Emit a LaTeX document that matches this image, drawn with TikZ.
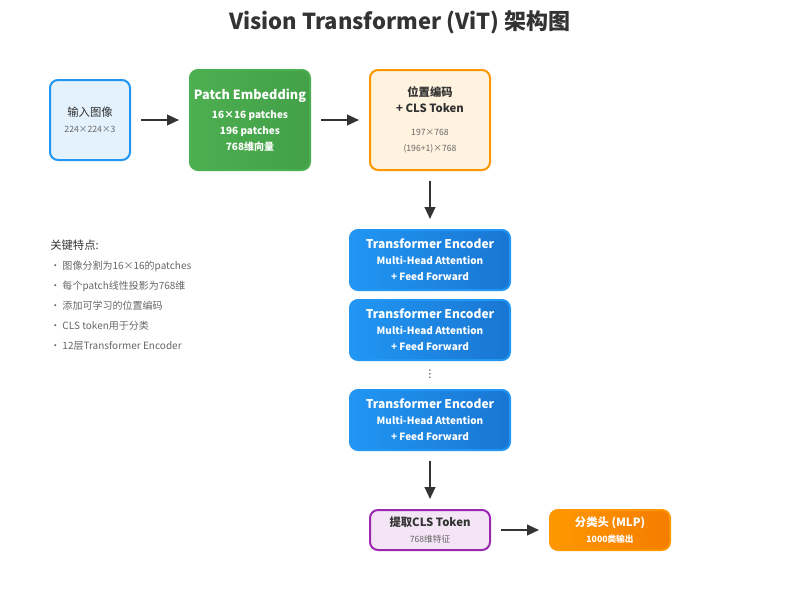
\documentclass[tikz,border=0pt]{standalone}
\usepackage{fontspec}
\setmainfont{Noto Sans CJK SC}
\newfontfamily\symfont{DejaVu Sans}
\usetikzlibrary{arrows.meta,positioning}
\definecolor{inblue}{HTML}{2196F3}
\definecolor{infill}{HTML}{E3F2FD}
\definecolor{pgreen}{HTML}{4CAF50}
\definecolor{pgreenD}{HTML}{43A047}
\definecolor{porange}{HTML}{FF9800}
\definecolor{pofill}{HTML}{FFF3E0}
\definecolor{encD}{HTML}{1976D2}
\definecolor{clsP}{HTML}{9C27B0}
\definecolor{clsfill}{HTML}{F3E5F5}
\definecolor{mlpD}{HTML}{F57C00}
\definecolor{txt}{HTML}{333333}
\definecolor{subtxt}{HTML}{666666}
\newcommand{\fsz}[1]{\fontsize{#1}{1.35\dimexpr#1pt\relax}\selectfont}
\begin{document}
\begin{tikzpicture}[x=0.75pt,y=-0.75pt,>={Triangle[length=9pt,width=8pt]},
                    text=txt]
  \tikzset{box/.style={rounded corners=6pt,line width=1.5pt,align=center,inner sep=0pt},
           flow/.style={->,line width=1.5pt,draw=txt},
           note/.style={anchor=west,inner sep=0pt,font=\fsz{7.5},text=subtxt}}
  \useasboundingbox (0,0) rectangle (800,600);
  \node[font=\fsz{16.5}\bfseries] (title) at (400,22) {Vision Transformer (ViT) 架构图};
  % input stage
  \node[box,draw=inblue,fill=infill,minimum width=60pt,minimum height=60pt] (img) at (90,120)
    {\fsz{8.5}输入图像\\\fsz{6.5}\color{subtxt}224×224×3};
  \node[box,draw=pgreen,left color=pgreen,right color=pgreenD,minimum width=90pt,minimum height=75pt,text=white,font=\bfseries] (patch) at (250,120)
    {\fsz{9.5}Patch Embedding\\[2pt]\fsz{7.5}16×16 patches\\\fsz{7.5}196 patches\\\fsz{7.5}768维向量};
  \node[box,draw=porange,fill=pofill,minimum width=90pt,minimum height=75pt] (pos) at (430,120)
    {\fsz{8.5}\bfseries 位置编码\\\fsz{8.5}\bfseries + CLS Token\\[5pt]\fsz{6.5}\color{subtxt}197×768\\\fsz{6.5}\color{subtxt}(196+1)×768};
  % encoder stack
  \foreach \n/\y in {enc1/260,enc2/330,enc3/420}
    \node[box,draw=inblue,left color=inblue,right color=encD,minimum width=120pt,minimum height=45pt,text=white,font=\bfseries] (\n) at (430,\y)
      {\fsz{9}Transformer Encoder\\\fsz{7.5}Multi-Head Attention\\\fsz{7.5}+ Feed Forward};
  \node[font=\symfont\fsz{8}] (dots) at (430,374) {⋮};
  % output stage
  \node[box,draw=clsP,fill=clsfill,minimum width=90pt,minimum height=30pt] (cls) at (430,530)
    {\fsz{8.5}\bfseries 提取CLS Token\\\fsz{6.5}\color{subtxt}768维特征};
  \node[box,draw=porange,left color=porange,right color=mlpD,minimum width=90pt,minimum height=30pt,text=white,font=\bfseries] (mlp) at (610,530)
    {\fsz{8.5}分类头 (MLP)\\\fsz{6.5}1000类输出};
  \draw[flow] ([xshift=7.5pt]img.east) -- ([xshift=-7.5pt]patch.west);
  \draw[flow] ([xshift=7.5pt]patch.east) -- ([xshift=-7.5pt]pos.west);
  \draw[flow] ([yshift=-7.5pt]pos.south) -- ([yshift=7.5pt]enc1.north);
  \draw[flow] ([yshift=-7.5pt]enc3.south) -- ([yshift=7.5pt]cls.north);
  \draw[flow] ([xshift=7.5pt]cls.east) -- ([xshift=-7.5pt]mlp.west);
  % key features
  \node[anchor=west,inner sep=0pt,font=\fsz{8.5}] (kf) at (50,245) {关键特点:};
  \node[note] (f1) at (50,266) {• 图像分割为16×16的patches};
  \node[note] (f2) at (50,286) {• 每个patch线性投影为768维};
  \node[note] (f3) at (50,306) {• 添加可学习的位置编码};
  \node[note] (f4) at (50,326) {• CLS token用于分类};
  \node[note] (f5) at (50,346) {• 12层Transformer Encoder};
\end{tikzpicture}
\end{document}
